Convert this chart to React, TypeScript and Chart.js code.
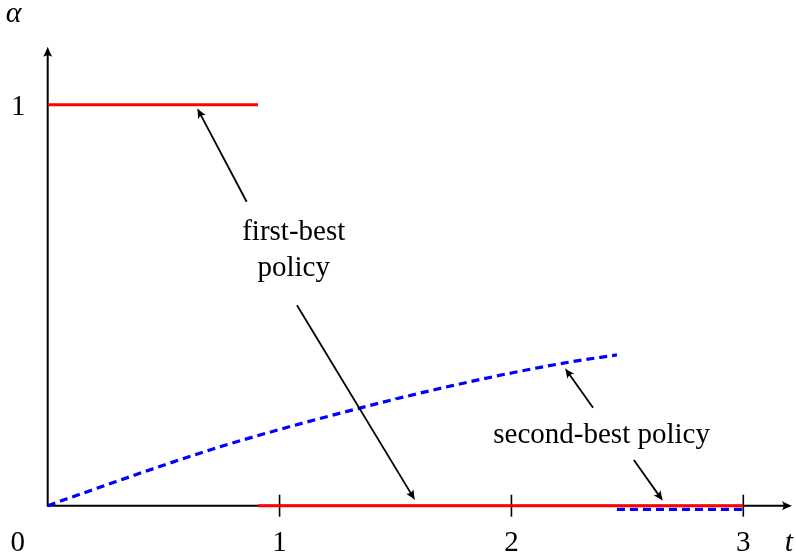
import React, { useEffect, useRef } from "react";
import { Chart, registerables } from "chart.js";

Chart.register(...registerables);

// ---- data ----
const xTicks = [1, 2, 3];
const xTickLabels = ["1", "2", "3"];
const yTickLabel = "1";
const originLabel = "0";
const xAxisLabel = "t";
const yAxisLabel = "α";

const firstBestHigh = [
  { x: 0, y: 1 },
  { x: 0.907, y: 1 },
];
const firstBestLow = [
  { x: 0.907, y: 0 },
  { x: 3, y: 0 },
];
const secondBestT = [0, 0.25, 0.5, 0.75, 1.0, 1.25, 1.5, 1.75, 2.0, 2.25, 2.455];
const secondBestAlpha = [0, 0.051, 0.101, 0.148, 0.19, 0.229, 0.266, 0.3, 0.331, 0.358, 0.376];
const secondBestLow = [
  { x: 2.455, y: -0.009 },
  { x: 3, y: -0.009 },
];

// annotation arrows: [fromX, fromY, toX, toY] in data units
const annotationArrows = [
  [0.858, 0.758, 0.645, 0.991],
  [1.075, 0.5, 1.584, 0.014],
  [2.352, 0.244, 2.231, 0.343],
  [2.528, 0.114, 2.653, 0.012],
];
// annotation texts: [text, x, baselineY] in data units
const annotationTexts: [string, number, number][] = [
  ["first-best", 1.061, 0.663],
  ["policy", 1.061, 0.572],
  ["second-best policy", 2.389, 0.156],
];

const X_MIN = 0;
const X_MAX = 3.21;
const Y_MIN = -0.12;
const Y_MAX = 1.1446;

function drawHead(ctx: CanvasRenderingContext2D, x: number, y: number, ang: number, len: number, spread: number) {
  ctx.save();
  ctx.translate(x, y);
  ctx.rotate(ang);
  ctx.beginPath();
  ctx.moveTo(0, 0);
  ctx.quadraticCurveTo(-len * 0.45, -spread * 0.35, -len, -spread);
  ctx.quadraticCurveTo(-len * 0.7, 0, -len, spread);
  ctx.quadraticCurveTo(-len * 0.45, spread * 0.35, 0, 0);
  ctx.closePath();
  ctx.fill();
  ctx.restore();
}

const axesPlugin = {
  id: "texAxes",
  beforeDatasetsDraw(chart: any) {
    const ctx: CanvasRenderingContext2D = chart.ctx;
    const xs = chart.scales.x;
    const ys = chart.scales.y;
    const ox = xs.getPixelForValue(0);
    const oy = ys.getPixelForValue(0);
    const xEnd = xs.getPixelForValue(X_MAX);
    const yEnd = ys.getPixelForValue(Y_MAX);
    ctx.save();
    ctx.strokeStyle = "#000";
    ctx.fillStyle = "#000";
    ctx.lineWidth = 2;
    ctx.lineCap = "butt";
    ctx.beginPath();
    ctx.moveTo(ox - 1, oy);
    ctx.lineTo(xEnd - 4, oy);
    ctx.moveTo(ox, oy + 1);
    ctx.lineTo(ox, yEnd + 4);
    ctx.stroke();
    drawHead(ctx, xEnd, oy, 0, 10, 4.5);
    drawHead(ctx, ox, yEnd, -Math.PI / 2, 10, 4.5);
    // ticks
    ctx.lineWidth = 1.6;
    xTicks.forEach((t) => {
      const px = xs.getPixelForValue(t);
      ctx.beginPath();
      ctx.moveTo(px, oy - 11);
      ctx.lineTo(px, oy + 11);
      ctx.stroke();
    });
    // labels
    ctx.textAlign = "center";
    ctx.textBaseline = "alphabetic";
    ctx.font = '29px "Liberation Serif"';
    xTicks.forEach((t, i) => {
      ctx.fillText(xTickLabels[i], xs.getPixelForValue(t), oy + 45.5);
    });
    ctx.fillText(originLabel, ox - 30, oy + 45.5);
    ctx.fillText(yTickLabel, ox - 29.5, ys.getPixelForValue(1) + 10.5);
    ctx.font = 'italic 30px "Liberation Serif"';
    ctx.fillText(xAxisLabel, xEnd - 3, oy + 45.5);
    ctx.fillText(yAxisLabel, ox - 34, yEnd - 25);
    ctx.restore();
  },
  afterDatasetsDraw(chart: any) {
    const ctx: CanvasRenderingContext2D = chart.ctx;
    const xs = chart.scales.x;
    const ys = chart.scales.y;
    ctx.save();
    ctx.strokeStyle = "#000";
    ctx.fillStyle = "#000";
    ctx.lineWidth = 1.8;
    annotationArrows.forEach(([fx, fy, tx, ty]) => {
      const x1 = xs.getPixelForValue(fx);
      const y1 = ys.getPixelForValue(fy);
      const x2 = xs.getPixelForValue(tx);
      const y2 = ys.getPixelForValue(ty);
      const ang = Math.atan2(y2 - y1, x2 - x1);
      ctx.beginPath();
      ctx.moveTo(x1, y1);
      ctx.lineTo(x2 - Math.cos(ang) * 4, y2 - Math.sin(ang) * 4);
      ctx.stroke();
      drawHead(ctx, x2, y2, ang, 10, 4.3);
    });
    ctx.font = '29px "Liberation Serif"';
    ctx.textAlign = "center";
    ctx.textBaseline = "alphabetic";
    annotationTexts.forEach(([txt, x, y]) => {
      ctx.fillText(txt, xs.getPixelForValue(x), ys.getPixelForValue(y));
    });
    ctx.restore();
  },
};

export default function App() {
  const ref = useRef<HTMLCanvasElement | null>(null);
  useEffect(() => {
    if (!ref.current) return;
    const chart = new Chart(ref.current, {
      type: "line",
      data: {
        datasets: [
          {
            data: secondBestT.map((t, i) => ({ x: t, y: secondBestAlpha[i] })),
            borderColor: "#0000ff",
            borderWidth: 3.2,
            borderDash: [8, 5],
            pointRadius: 0,
            cubicInterpolationMode: "monotone",
            fill: false,
          },
          {
            data: secondBestLow,
            borderColor: "#0000ff",
            borderWidth: 3.2,
            borderDash: [8, 5],
            pointRadius: 0,
            fill: false,
          },
          {
            data: firstBestHigh,
            borderColor: "#ff0000",
            borderWidth: 3,
            pointRadius: 0,
            fill: false,
          },
          {
            data: firstBestLow,
            borderColor: "#ff0000",
            borderWidth: 3,
            pointRadius: 0,
            fill: false,
          },
        ],
      },
      options: {
        animation: false,
        responsive: true,
        maintainAspectRatio: false,
        layout: { padding: { left: 47.7, right: 4, top: 46.7, bottom: 2.2 } },
        plugins: { legend: { display: false }, tooltip: { enabled: false } },
        events: [],
        scales: {
          x: { type: "linear", min: X_MIN, max: X_MAX, display: false },
          y: { type: "linear", min: Y_MIN, max: Y_MAX, display: false },
        },
      },
      plugins: [axesPlugin],
    } as any);
    return () => chart.destroy();
  }, []);
  return (
    <div style={{ position: "fixed", left: 0, top: 0, width: 796, height: 556, background: "#fff" }}>
      <canvas ref={ref} />
    </div>
  );
}
